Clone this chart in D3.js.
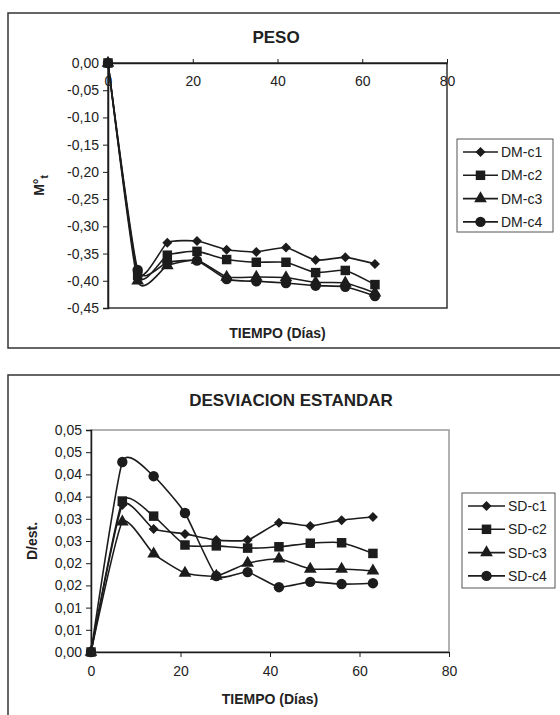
<!DOCTYPE html>
<html>
<head>
<meta charset="utf-8">
<script src="https://cdn.jsdelivr.net/npm/d3@7"></script>
<style>
  body { margin: 0; background: #fff; }
  svg { display: block; font-family: "Liberation Sans", Arial, sans-serif; }
</style>
</head>
<body>
<div id="chart"></div>
<script>
// days of measurement
const days = [0, 7, 14, 21, 28, 35, 42, 49, 56, 63];

// PESO (M°t)
const dmNames = ["DM-c1", "DM-c2", "DM-c3", "DM-c4"];
const dmC1 = [0, -0.385, -0.330, -0.327, -0.343, -0.347, -0.339, -0.362, -0.357, -0.369];
const dmC2 = [0, -0.390, -0.353, -0.346, -0.361, -0.366, -0.366, -0.385, -0.381, -0.407];
const dmC3 = [0, -0.400, -0.372, -0.362, -0.393, -0.393, -0.394, -0.403, -0.404, -0.422];
const dmC4 = [0, -0.380, -0.366, -0.363, -0.397, -0.401, -0.404, -0.409, -0.411, -0.428];
const pesoTicks = [0, -0.05, -0.10, -0.15, -0.20, -0.25, -0.30, -0.35, -0.40, -0.45];

// DESVIACION ESTANDAR (D/est.)
const sdNames = ["SD-c1", "SD-c2", "SD-c3", "SD-c4"];
const sdC1 = [0, 0.0331, 0.0277, 0.0266, 0.0252, 0.0252, 0.0291, 0.0284, 0.0297, 0.0304];
const sdC2 = [0, 0.0340, 0.0306, 0.0241, 0.0239, 0.0234, 0.0237, 0.0245, 0.0246, 0.0222];
const sdC3 = [0, 0.0293, 0.0221, 0.0178, 0.0171, 0.0200, 0.0210, 0.0187, 0.0187, 0.0183];
const sdC4 = [0, 0.0428, 0.0396, 0.0313, 0.0171, 0.0180, 0.0146, 0.0158, 0.0153, 0.0155];
const sdTicks = [0, 0.005, 0.01, 0.015, 0.02, 0.025, 0.03, 0.035, 0.04, 0.045, 0.05];
const sdTickLabels = ["0,00", "0,01", "0,01", "0,02", "0,02", "0,03", "0,03", "0,04", "0,04", "0,05", "0,05"];

const xTicks = [0, 20, 40, 60, 80];

const width = 560;
const height = 715;
const ink = "#1c1c1c";

const locale = d3.formatLocale({ decimal: ",", thousands: ".", grouping: [3], currency: ["", ""], minus: "-" });
const fmt2 = locale.format(".2f");

const svg = d3.select("#chart")
    .append("svg")
    .attr("width", width)
    .attr("height", height);

svg.append("rect").attr("width", width).attr("height", height).attr("fill", "#fff");

// marker shapes, in the Excel order: diamond, square, triangle, circle
const markerPath = [
    d3.symbol().type(d3.symbolSquare).size(50)(),
    d3.symbol().type(d3.symbolSquare).size(90)(),
    d3.symbol().type(d3.symbolTriangle).size(70)(),
    d3.symbol().type(d3.symbolCircle).size(85)()
];
const markerRotate = [45, 0, 0, 0];

const drawMarker = (g, i, x, y) => {
    g.append("path")
        .attr("d", markerPath[i])
        .attr("transform", `translate(${x},${y}) rotate(${markerRotate[i]})`)
        .attr("fill", ink);
};

const drawChart = cfg => {
    const g = svg.append("g");

    // chart area frame (runs off the right side)
    g.append("rect")
        .attr("x", 8).attr("y", cfg.boxTop)
        .attr("width", 600).attr("height", cfg.boxHeight)
        .attr("fill", "none")
        .attr("stroke", "#333")
        .attr("stroke-width", 1.5);

    const xScale = d3.scaleLinear().domain([0, 80]).range(cfg.xRange);
    const yScale = d3.scaleLinear().domain(cfg.yDomain).range(cfg.yRange);

    // plot frame
    const [x0, x1] = cfg.xRange;
    const yTop = Math.min(...cfg.yRange);
    const yBot = Math.max(...cfg.yRange);
    g.append("rect")
        .attr("x", x0).attr("y", yTop)
        .attr("width", x1 - x0).attr("height", yBot - yTop)
        .attr("fill", "none")
        .attr("stroke", cfg.frameColor)
        .attr("stroke-width", cfg.frameWidth);

    const yAxis = d3.axisLeft(yScale)
        .tickValues(cfg.yTicks)
        .tickFormat(cfg.yFormat)
        .tickSizeOuter(0)
        .tickSize(5)
        .tickPadding(4);

    const yAxisG = g.append("g")
        .attr("transform", `translate(${x0},0)`)
        .call(yAxis);
    yAxisG.select(".domain").attr("stroke", ink).attr("stroke-width", 1.5);
    yAxisG.selectAll("line").attr("stroke", ink);
    yAxisG.selectAll("text")
        .attr("font-size", "14px")
        .attr("fill", "#222")
        .attr("font-family", "Liberation Sans, Arial, sans-serif");

    const xAxis = (cfg.xTicksInside ? d3.axisBottom(xScale).tickSize(-4).tickPadding(13) : d3.axisBottom(xScale).tickSize(5).tickPadding(9))
        .tickValues(xTicks)
        .tickFormat(d3.format("d"))
        .tickSizeOuter(0);

    const xAxisG = g.append("g")
        .attr("transform", `translate(0,${yScale(0)})`)
        .call(xAxis);
    xAxisG.select(".domain").attr("stroke", ink).attr("stroke-width", 1.5);
    xAxisG.selectAll("line").attr("stroke", ink);
    xAxisG.selectAll("text")
        .attr("font-size", "14px")
        .attr("fill", "#222")
        .attr("font-family", "Liberation Sans, Arial, sans-serif");

    // titles
    g.append("text")
        .attr("x", cfg.titleX).attr("y", cfg.titleY)
        .attr("text-anchor", "middle")
        .attr("font-size", "17px")
        .attr("font-weight", "bold")
        .attr("fill", "#222")
        .text(cfg.title);

    g.append("text")
        .attr("x", (x0 + x1) / 2).attr("y", cfg.xTitleY)
        .attr("text-anchor", "middle")
        .attr("font-size", "14px")
        .attr("font-weight", "bold")
        .attr("fill", "#222")
        .text("TIEMPO (Días)");

    const yTitle = g.append("text")
        .attr("transform", `translate(${cfg.yTitleX},${(yTop + yBot) / 2}) rotate(-90)`)
        .attr("text-anchor", "middle")
        .attr("font-size", "14px")
        .attr("font-weight", "bold")
        .attr("fill", "#222");
    cfg.yTitle(yTitle);

    // series (smoothed lines)
    const line = d3.line()
        .x(d => xScale(d[0]))
        .y(d => yScale(d[1]))
        .curve(d3.curveCardinal.tension(0.5));

    cfg.series.forEach(values => {
        const pts = days.map((d, j) => [d, values[j]]);
        g.append("path")
            .attr("d", line(pts))
            .attr("fill", "none")
            .attr("stroke", ink)
            .attr("stroke-width", 1.6);
    });
    cfg.series.forEach((values, i) => {
        days.forEach((d, j) => drawMarker(g, i, xScale(d), yScale(values[j])));
    });

    // legend
    const lg = cfg.legend;
    g.append("rect")
        .attr("x", lg.x).attr("y", lg.y)
        .attr("width", lg.w).attr("height", lg.h)
        .attr("fill", "#fff")
        .attr("stroke", "#555")
        .attr("stroke-width", 1);

    cfg.names.forEach((name, i) => {
        const cy = lg.y + 13 + i * 23.3;
        g.append("line")
            .attr("x1", lg.lineX1).attr("x2", lg.lineX2)
            .attr("y1", cy).attr("y2", cy)
            .attr("stroke", ink)
            .attr("stroke-width", 1.6);
        drawMarker(g, i, (lg.lineX1 + lg.lineX2) / 2, cy);
        g.append("text")
            .attr("x", lg.lineX2 + 3).attr("y", cy)
            .attr("dy", "0.36em")
            .attr("font-size", "14px")
            .attr("fill", "#222")
            .text(name);
    });
};

drawChart({
    title: "PESO",
    titleX: 276,
    titleY: 43,
    boxTop: 13,
    boxHeight: 335,
    xRange: [108, 447],
    yDomain: [0, -0.45],
    yRange: [63, 308],
    yTicks: pesoTicks,
    yFormat: fmt2,
    xTicksInside: true,
    frameColor: "#333",
    frameWidth: 1.5,
    xTitleY: 338,
    yTitleX: 44,
    yTitle: t => {
        t.append("tspan").text("M°");
        t.append("tspan").attr("font-size", "10px").attr("dy", "4").text("t");
    },
    series: [dmC1, dmC2, dmC3, dmC4],
    names: dmNames,
    legend: { x: 457, y: 139, w: 96, h: 93, lineX1: 463, lineX2: 498 }
});

drawChart({
    title: "DESVIACION ESTANDAR",
    titleX: 291,
    titleY: 406,
    boxTop: 375,
    boxHeight: 400,
    xRange: [91, 449],
    yDomain: [0, 0.05],
    yRange: [652, 430],
    yTicks: sdTicks,
    yFormat: (d, i) => sdTickLabels[i],
    xTicksInside: false,
    frameColor: "#999",
    frameWidth: 1.5,
    xTitleY: 704,
    yTitleX: 37,
    yTitle: t => t.text("D/est."),
    series: [sdC1, sdC2, sdC3, sdC4],
    names: sdNames,
    legend: { x: 462, y: 493, w: 93, h: 95, lineX1: 468, lineX2: 505 }
});
</script>
</body>
</html>
